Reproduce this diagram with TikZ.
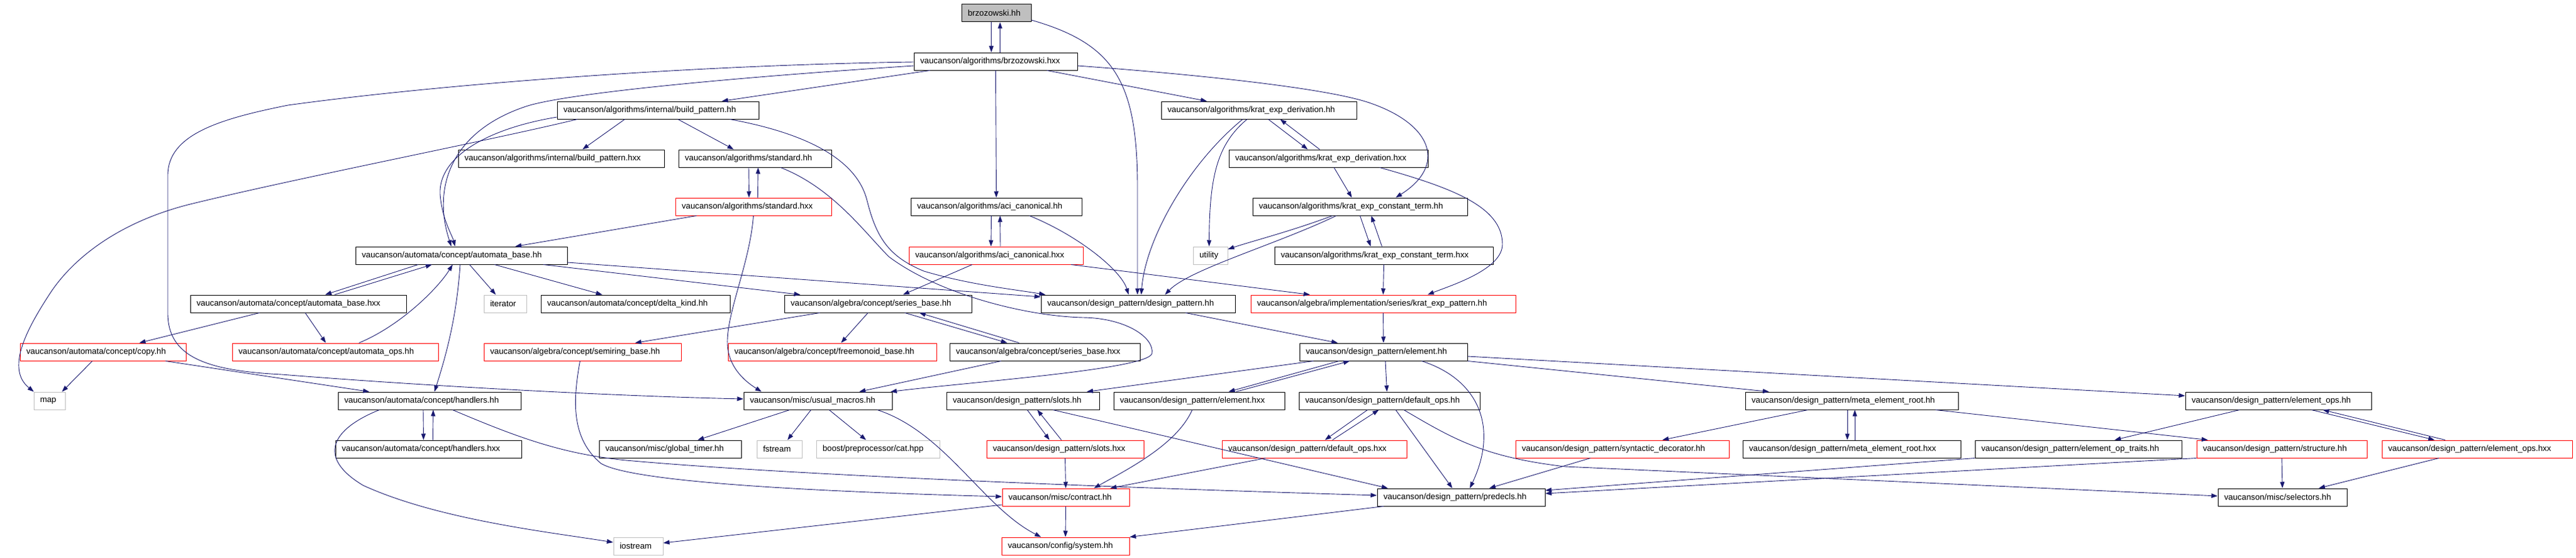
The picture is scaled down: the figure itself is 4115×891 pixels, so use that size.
\documentclass[tikz,border=0pt]{standalone}
\usepackage{fontspec}
\setmainfont{Liberation Sans}
\usetikzlibrary{arrows.meta}

\definecolor{rootgray}{HTML}{BFBFBF}
\definecolor{navyedge}{HTML}{191970}

\begin{document}
\begin{tikzpicture}[x=1pt,y=-1pt,
  file/.style={draw=black, line width=1pt, fill=white, minimum height=28pt,
    inner xsep=10pt, inner ysep=0pt, align=left,
    font=\fontsize{13.3pt}{15pt}\selectfont},
  rootfile/.style={file, fill=rootgray},
  redfile/.style={file, draw=red},
  sysfile/.style={file, draw=rootgray},
  dep/.style={draw=navyedge, line width=0.9pt, -{Triangle[length=10pt,width=7pt]}}]
  \useasboundingbox (0,0) rectangle (4115,891);

  % Files, row by row
  \node[rootfile, text width=91pt] (bh) at (1591.5,21) {brzozowski.hh};
  \node[file, text width=241pt] (bhxx) at (1590.5,98) {vaucanson/algorithms/brzozowski.hxx};

  \node[file, text width=302pt] (bp) at (1051,176) {vaucanson/algorithms/internal/build\_pattern.hh};
  \node[file, text width=292pt] (ked) at (2011,176) {vaucanson/algorithms/krat\_exp\_derivation.hh};

  \node[file, text width=309pt] (bpxx) at (896.5,253) {vaucanson/algorithms/internal/build\_pattern.hxx};
  \node[file, text width=224pt] (std) at (1206,253) {vaucanson/algorithms/standard.hh};
  \node[file, text width=298pt] (kedxx) at (2122,253) {vaucanson/algorithms/krat\_exp\_derivation.hxx};

  \node[redfile, text width=229pt] (stdxx) at (1203.5,330) {vaucanson/algorithms/standard.hxx};
  \node[file, text width=253pt] (aci) at (1591.5,330) {vaucanson/algorithms/aci\_canonical.hh};
  \node[file, text width=323pt] (kect) at (2172.5,330) {vaucanson/algorithms/krat\_exp\_constant\_term.hh};

  \node[file, text width=318pt] (ab) at (737,408) {vaucanson/automata/concept/automata\_base.hh};
  \node[redfile, text width=258pt] (acixx) at (1591,408) {vaucanson/algorithms/aci\_canonical.hxx};
  \node[sysfile, text width=35pt] (utility) at (1933.5,408) {utility};
  \node[file, text width=329pt] (kectxx) at (2210.5,408) {vaucanson/algorithms/krat\_exp\_constant\_term.hxx};

  \node[file, text width=325pt] (abxx) at (476.5,485) {vaucanson/automata/concept/automata\_base.hxx};
  \node[sysfile, text width=48pt] (iterator) at (807,485) {iterator};
  \node[file, text width=282pt] (dk) at (1015,485) {vaucanson/automata/concept/delta\_kind.hh};
  \node[file, text width=279pt] (sb) at (1402.5,485) {vaucanson/algebra/concept/series\_base.hh};
  \node[file, text width=290pt] (dp) at (1818,485) {vaucanson/design\_pattern/design\_pattern.hh};
  \node[redfile, text width=403pt] (kep) at (2209.5,485) {vaucanson/algebra/implementation/series/krat\_exp\_pattern.hh};

  \node[redfile, text width=245pt] (copy) at (164.5,562) {vaucanson/automata/concept/copy.hh};
  \node[redfile, text width=309pt] (ops) at (535.5,562) {vaucanson/automata/concept/automata\_ops.hh};
  \node[redfile, text width=295pt] (srb) at (930.5,562) {vaucanson/algebra/concept/semiring\_base.hh};
  \node[redfile, text width=313pt] (fmb) at (1329.5,562) {vaucanson/algebra/concept/freemonoid\_base.hh};
  \node[file, text width=284pt] (sbxx) at (1669,562) {vaucanson/algebra/concept/series\_base.hxx};
  \node[file, text width=248pt] (el) at (2210,562) {vaucanson/design\_pattern/element.hh};

  \node[sysfile, text width=30pt] (map) at (79,640) {map};
  \node[file, text width=272pt] (hd) at (686,640) {vaucanson/automata/concept/handlers.hh};
  \node[file, text width=217pt] (um) at (1306.5,640) {vaucanson/misc/usual\_macros.hh};
  \node[file, text width=224pt] (slots) at (1634,640) {vaucanson/design\_pattern/slots.hh};
  \node[file, text width=253pt] (elxx) at (1915.5,640) {vaucanson/design\_pattern/element.hxx};
  \node[file, text width=269pt] (dop) at (2219.5,640) {vaucanson/design\_pattern/default\_ops.hh};
  \node[file, text width=320pt] (mer) at (2958,640) {vaucanson/design\_pattern/meta\_element\_root.hh};
  \node[file, text width=277pt] (eops) at (3639.5,640) {vaucanson/design\_pattern/element\_ops.hh};

  \node[file, text width=277pt] (hdxx) at (684.5,717) {vaucanson/automata/concept/handlers.hxx};
  \node[file, text width=207pt] (gt) at (1070.5,717) {vaucanson/misc/global\_timer.hh};
  \node[sysfile, text width=52pt] (fstream) at (1245,717) {fstream};
  \node[sysfile, text width=177pt] (cat) at (1402.5,717) {boost/preprocessor/cat.hpp};
  \node[redfile, text width=231pt] (slotsxx) at (1701.5,717) {vaucanson/design\_pattern/slots.hxx};
  \node[redfile, text width=275pt] (dopxx) at (2099.5,717) {vaucanson/design\_pattern/default\_ops.hxx};
  \node[redfile, text width=321pt] (synd) at (2591.5,717) {vaucanson/design\_pattern/syntactic\_decorator.hh};
  \node[file, text width=328pt] (merxx) at (2958,717) {vaucanson/design\_pattern/meta\_element\_root.hxx};
  \node[file, text width=310pt] (eot) at (3320,717) {vaucanson/design\_pattern/element\_op\_traits.hh};
  \node[redfile, text width=252pt] (struct) at (3645,717) {vaucanson/design\_pattern/structure.hh};
  \node[redfile, text width=284pt] (eopsxx) at (3957,717) {vaucanson/design\_pattern/element\_ops.hxx};

  \node[redfile, text width=183pt] (contract) at (1702.5,794) {vaucanson/misc/contract.hh};
  \node[file, text width=248pt] (predecls) at (2334,794) {vaucanson/design\_pattern/predecls.hh};
  \node[file, text width=186pt] (sel) at (3646,794) {vaucanson/misc/selectors.hh};

  \node[sysfile, text width=59pt] (iostream) at (1019.5,872) {iostream};
  \node[redfile, text width=184pt] (system) at (1702,872) {vaucanson/config/system.hh};

  % brzozowski.hh and its .hxx
  \draw[dep] ([xshift=-8pt]bh.south) -- ([xshift=-7pt]bhxx.north);
  \draw[dep] ([xshift=7pt]bhxx.north) -- ([xshift=6pt]bh.south);
  \draw[dep] ([yshift=-11pt]bh.east) .. controls (1780,70) and (1817,130) .. (1817,300) -- ([xshift=-1pt]dp.north);
  \draw[dep] ([xshift=-105pt]bhxx.south) -- ([xshift=102pt]bp.north);
  \draw[dep] (bhxx.south) -- (aci.north);
  \draw[dep] ([xshift=82pt]bhxx.south) -- ([xshift=-83pt]ked.north);
  \draw[dep] ([yshift=-7pt]bhxx.east) .. controls (1900,118) and (2120,140) .. (2190,165) .. controls (2290,200) and (2310,265) .. ([xshift=57pt]kect.north);
  \draw[dep] ([yshift=-1pt]bhxx.west) .. controls (1100,104) and (700,135) .. (460,168) .. controls (350,190) and (268,215) .. (268,280) -- (268,500) .. controls (268,570) and (330,592) .. (450,598) .. controls (700,618) and (1000,633) .. ([yshift=3pt]um.west);
  \draw[dep] ([yshift=-7pt]bhxx.west) .. controls (1150,125) and (900,150) .. (840,170) .. controls (720,210) and (690,300) .. ([xshift=-16pt]ab.north);

  % build_pattern.hh
  \draw[dep] ([yshift=-11pt]bp.west) .. controls (780,205) and (700,250) .. (703,310) .. controls (706,350) and (722,375) .. ([xshift=-10pt]ab.north);
  \draw[dep] ([xshift=-129pt]bp.south) .. controls (780,225) and (470,285) .. (300,327) .. controls (180,358) and (110,420) .. (77,473) .. controls (40,530) and (10,590) .. ([xshift=-25pt]map.north);
  \draw[dep] ([xshift=-53pt]bp.south) -- ([xshift=34pt]bpxx.north);
  \draw[dep] ([xshift=32pt]bp.south) -- ([xshift=-34pt]std.north);
  \draw[dep] ([xshift=115pt]bp.south) .. controls (1300,215) and (1370,260) .. (1385,320) .. controls (1400,380) and (1420,410) .. (1476,433) .. controls (1550,455) and (1620,462) .. ([xshift=-148pt]dp.north);

  % standard
  \draw[dep] ([xshift=-10pt]std.south) -- ([xshift=-7pt]stdxx.north);
  \draw[dep] ([xshift=7pt]stdxx.north) -- ([xshift=5pt]std.south);
  \draw[dep] ([xshift=41pt]std.south) .. controls (1330,300) and (1380,370) .. (1420,410) .. controls (1500,470) and (1640,505) .. (1730,507) .. controls (1800,508) and (1845,540) .. (1840,565) .. controls (1830,590) and (1550,610) .. ([xshift=-3pt]um.north east);
  \draw[dep] ([xshift=-91pt]stdxx.south) -- ([xshift=86pt]ab.north);
  \draw[dep] (stdxx.south) .. controls (1198,420) and (1160,500) .. (1162,550) .. controls (1164,590) and (1195,612) .. ([xshift=-90pt]um.north);

  % aci_canonical
  \draw[dep] ([xshift=-8pt]aci.south) -- ([xshift=-8pt]acixx.north);
  \draw[dep] ([xshift=7pt]acixx.north) -- ([xshift=6pt]aci.south);
  \draw[dep] ([xshift=53pt]aci.south) .. controls (1720,375) and (1790,430) .. ([xshift=-15pt]dp.north);
  \draw[dep] ([xshift=-38pt]acixx.south) -- ([xshift=40pt]sb.north);
  \draw[dep] ([xshift=120pt]acixx.south) -- ([xshift=-117pt]kep.north);

  % krat_exp_derivation and krat_exp_constant_term
  \draw[dep] ([xshift=15pt]ked.south) -- ([xshift=-33pt]kedxx.north);
  \draw[dep] ([xshift=-14pt]kedxx.north) -- ([xshift=34pt]ked.south);
  \draw[dep] ([xshift=-26pt]ked.south) .. controls (1900,260) and (1830,380) .. ([xshift=5pt]dp.north);
  \draw[dep] ([xshift=-19pt]ked.south) .. controls (1945,230) and (1932,280) .. ([xshift=-2pt]utility.north);
  \draw[dep] ([xshift=9pt]kedxx.south) -- ([xshift=-13pt]kect.north);
  \draw[dep] ([xshift=82pt]kedxx.south) .. controls (2320,300) and (2400,330) .. (2400,390) .. controls (2400,430) and (2320,455) .. ([xshift=71pt]kep.north);
  \draw[dep] (kect.south) -- ([xshift=-21pt]kectxx.north);
  \draw[dep] ([xshift=-3pt]kectxx.north) -- ([xshift=18pt]kect.south);
  \draw[dep] (kectxx.south) -- (kep.north);
  \draw[dep] ([xshift=-44pt]kect.south) .. controls (2060,370) and (2000,385) .. ([yshift=10pt]utility.east);
  \draw[dep] ([xshift=-38pt]kect.south) .. controls (2040,390) and (1900,430) .. ([xshift=43pt]dp.north);

  % automata_base
  \draw[dep] ([xshift=-69pt]ab.south) -- ([xshift=43pt]abxx.north);
  \draw[dep] ([xshift=58pt]abxx.north) -- ([xshift=-47pt]ab.south);
  \draw[dep] ([xshift=-2pt]ab.south) .. controls (730,500) and (715,560) .. ([xshift=8pt]hd.north);
  \draw[dep] ([xshift=13pt]ab.south) -- ([xshift=-15pt]iterator.north);
  \draw[dep] ([xshift=53pt]ab.south) -- ([xshift=-53pt]dk.north);
  \draw[dep] ([xshift=131pt]ab.south) -- ([xshift=-124pt]sb.north);
  \draw[dep] ([yshift=-11pt]ab.east) -- ([yshift=11pt]dp.west);
  \draw[dep] ([xshift=-62pt]abxx.south) -- ([xshift=58pt]copy.north);
  \draw[dep] ([xshift=11pt]abxx.south) -- ([xshift=-15pt]ops.north);
  \draw[dep] ([xshift=38pt]ops.north) .. controls (640,520) and (700,460) .. ([xshift=-14pt]ab.south);
  \draw[dep] ([xshift=-17pt]copy.south) -- ([xshift=20pt]map.north);
  \draw[dep] ([xshift=100pt]copy.south) -- ([xshift=-96pt]hd.north);

  % handlers
  \draw[dep] ([xshift=-10pt]hd.south) -- ([xshift=-8pt]hdxx.north);
  \draw[dep] ([xshift=7pt]hdxx.north) -- ([xshift=6pt]hd.south);
  \draw[dep] ([xshift=-80pt]hd.south) .. controls (530,685) and (505,730) .. (580,775) .. controls (700,830) and (880,850) .. ([yshift=6pt]iostream.west);
  \draw[dep] ([xshift=37pt]hd.south) .. controls (830,700) and (900,725) .. (1000,735) .. controls (1300,762) and (1900,782) .. ([yshift=3pt]predecls.west);

  % series_base and semiring_base
  \draw[dep] ([xshift=-4pt]srb.south) .. controls (915,640) and (912,700) .. (960,740) .. controls (1010,770) and (1300,785) .. ([yshift=1pt]contract.west);
  \draw[dep] ([xshift=-93pt]sb.south) -- ([xshift=84pt]srb.north);
  \draw[dep] ([xshift=-16pt]sb.south) -- ([xshift=14pt]fmb.north);
  \draw[dep] ([xshift=43pt]sb.south) -- ([xshift=-60pt]sbxx.north);
  \draw[dep] ([xshift=-41pt]sbxx.north) -- ([xshift=66pt]sb.south);
  \draw[dep] ([xshift=-70pt]sbxx.south) -- ([xshift=66pt]um.north);

  % design_pattern and krat_exp_pattern
  \draw[dep] ([xshift=76pt]dp.south) -- ([xshift=-73pt]el.north);
  \draw[dep] (kep.south) -- (el.north);

  % usual_macros
  \draw[dep] ([xshift=-45pt]um.south) -- ([xshift=44pt]gt.north);
  \draw[dep] ([xshift=-11pt]um.south) -- ([xshift=13pt]fstream.north);
  \draw[dep] ([xshift=18pt]um.south) -- ([xshift=-19pt]cat.north);
  \draw[dep] ([xshift=95pt]um.south) .. controls (1510,690) and (1570,810) .. ([xshift=-39pt]system.north);

  % slots
  \draw[dep] ([xshift=7pt]slots.south) -- ([xshift=-25pt]slotsxx.north);
  \draw[dep] ([xshift=-6pt]slotsxx.north) -- ([xshift=23pt]slots.south);
  \draw[dep] ([xshift=48pt]slots.south) -- ([xshift=-117pt]predecls.north);
  \draw[dep] (slotsxx.south) -- (contract.north);

  % element
  \draw[dep] ([xshift=-112pt]el.south) -- ([xshift=102pt]slots.north);
  \draw[dep] ([xshift=-71pt]el.south) -- ([xshift=47pt]elxx.north);
  \draw[dep] ([xshift=59pt]elxx.north) -- ([xshift=-54pt]el.south);
  \draw[dep] ([xshift=3pt]el.south) -- ([xshift=-4pt]dop.north);
  \draw[dep] ([xshift=61pt]el.south) .. controls (2360,605) and (2395,680) .. ([xshift=14pt]predecls.north);
  \draw[dep] (el.south east) -- ([xshift=-132pt]mer.north);
  \draw[dep] ([yshift=-7pt]el.east) -- ([yshift=8pt]eops.west);
  \draw[dep] ([xshift=-11pt]elxx.south) .. controls (1880,710) and (1800,750) .. ([xshift=45pt]contract.north);

  % default_ops
  \draw[dep] ([xshift=-35pt]dop.south) -- ([xshift=17pt]dopxx.north);
  \draw[dep] ([xshift=29pt]dopxx.north) -- ([xshift=-17pt]dop.south);
  \draw[dep] ([xshift=10pt]dop.south) -- ([xshift=-14pt]predecls.north);
  \draw[dep] ([xshift=23pt]dop.south) .. controls (2320,700) and (2370,730) .. (2500,745) -- ([yshift=2pt]sel.west);
  \draw[dep] ([xshift=-78pt]dopxx.south) -- ([xshift=71pt]contract.north);

  % contract and predecls
  \draw[dep] (contract.south) -- (system.north);
  \draw[dep] ([yshift=-12pt]contract.west) -- ([yshift=5pt]iostream.east);
  \draw[dep] ([xshift=-124pt]predecls.south) -- (system.north east);

  % meta_element_root and element_ops
  \draw[dep] ([xshift=-51pt]synd.south) -- ([xshift=45pt]predecls.north);
  \draw[dep] ([xshift=-70pt]mer.south) -- ([xshift=64pt]synd.north);
  \draw[dep] ([xshift=-7pt]mer.south) -- ([xshift=-7pt]merxx.north);
  \draw[dep] ([xshift=5pt]merxx.north) -- ([xshift=5pt]mer.south);
  \draw[dep] ([xshift=134pt]mer.south) -- ([xshift=-118pt]struct.north);
  \draw[dep] ([xshift=-62pt]eops.south) -- ([xshift=58pt]eot.north);
  \draw[dep] ([xshift=53pt]eops.south) -- ([xshift=-68pt]eopsxx.north);
  \draw[dep] ([xshift=-51pt]eopsxx.north) -- ([xshift=71pt]eops.south);
  \draw[dep] ([xshift=-61pt]eopsxx.south) -- ([xshift=58pt]sel.north);
  \draw[dep] (struct.south) -- (sel.north);
  \draw[dep] (eot.south west) -- ([yshift=11pt]predecls.east);
  \draw[dep] (struct.south west) -- ([yshift=6pt]predecls.east);
\end{tikzpicture}
\end{document}
